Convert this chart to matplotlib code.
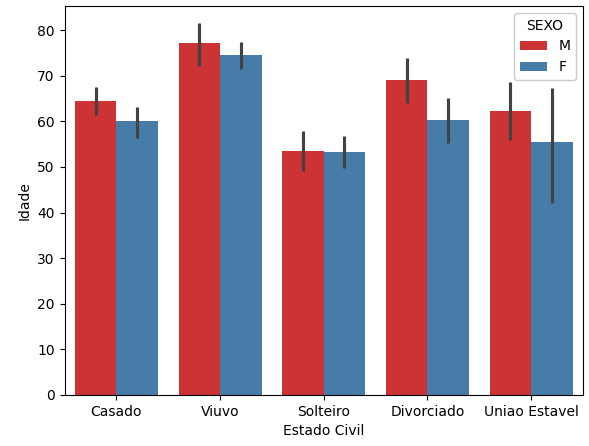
import numpy as np
import pandas as pd
import matplotlib
matplotlib.use("Agg")
import matplotlib.pyplot as plt
import seaborn as sns

# mean age per marital status and sex, with the 95% CI bounds
estado_civil = ["Casado", "Viuvo", "Solteiro", "Divorciado", "Uniao Estavel"]
sexo = ["M", "F"]

idade_m = [64.4, 77.1, 53.5, 69.0, 62.3]
idade_f = [60.0, 74.5, 53.2, 60.4, 55.4]

ci_low_m = [61.4, 72.1, 49.1, 64.0, 55.9]
ci_high_m = [67.6, 81.5, 57.9, 73.8, 68.6]
ci_low_f = [56.4, 71.4, 49.7, 55.2, 42.2]
ci_high_f = [63.2, 77.5, 56.7, 65.2, 67.3]

df = pd.DataFrame({
    "Estado Civil": estado_civil * 2,
    "SEXO": ["M"] * len(estado_civil) + ["F"] * len(estado_civil),
    "Idade": idade_m + idade_f,
})

fig = plt.figure(figsize=(5.89, 4.46), dpi=100)
ax = fig.add_axes([64.5 / 589, 1 - 395 / 446, (583 - 64.5) / 589, (395 - 6) / 446])

sns.barplot(data=df, x="Estado Civil", y="Idade", hue="SEXO",
            hue_order=sexo, order=estado_civil, palette="Set1",
            errorbar=None, ax=ax)

# confidence interval lines, dodged like the bars
x = np.arange(len(estado_civil))
ax.vlines(x - 0.2, ci_low_m, ci_high_m, color=".26", linewidth=2.25, zorder=3)
ax.vlines(x + 0.2, ci_low_f, ci_high_f, color=".26", linewidth=2.25, zorder=3)

ax.set_ylim(0, 85.3)
ax.set_xlim(-0.5, 4.5)
ax.legend(title="SEXO", loc="upper right", framealpha=1)

fig.savefig("out.png", dpi=100)
